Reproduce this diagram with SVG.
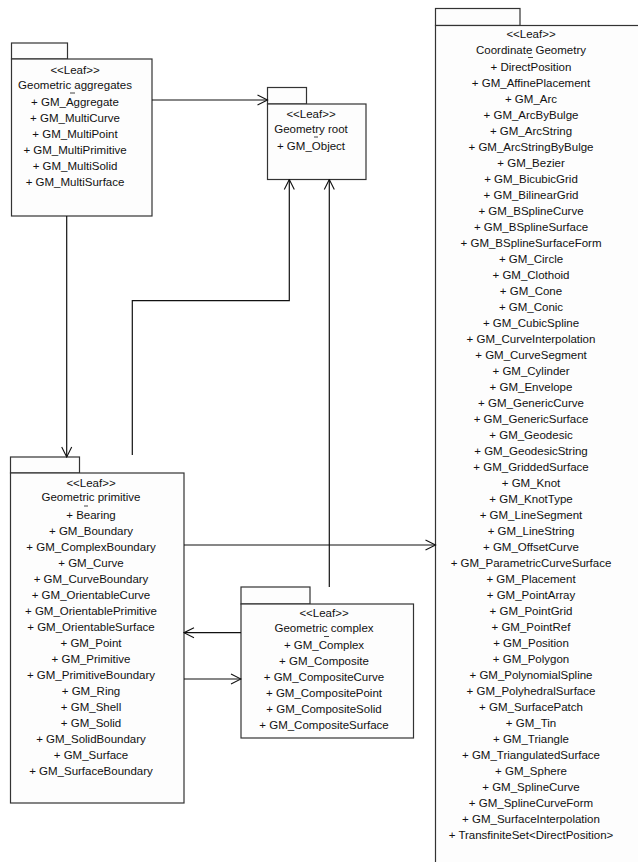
<svg xmlns="http://www.w3.org/2000/svg" width="638" height="862" viewBox="0 0 638 862">
  <defs>
    <marker id="open-arrow" viewBox="0 0 12 12" refX="11" refY="6" markerWidth="12" markerHeight="12" markerUnits="userSpaceOnUse" orient="auto">
      <path d="M1,1 L11,6 L1,11" fill="none" stroke="#111" stroke-width="1.1"/>
    </marker>
  </defs>
  <style>
    .pkg rect { fill: #fdfdfd; stroke: #333; stroke-width: 1.2; }
    .pkg text { font-family: "Liberation Sans", Arial, sans-serif; font-size: 11.5px; fill: #111; text-anchor: middle; }
    .pkg line.mark { stroke: #444; stroke-width: 1; }
    .conn path { fill: none; stroke: #111; stroke-width: 1.2; marker-end: url(#open-arrow); }
  </style>

  <rect x="0" y="0" width="638" height="862" fill="#ffffff"/>

  <!-- Packages -->
  <g id="geometric-aggregates" class="pkg">
    <rect x="11.5" y="43" width="56" height="16"/>
    <rect x="11.5" y="59" width="140.5" height="157"/>
    <text x="75" y="73.5">&lt;&lt;Leaf&gt;&gt;</text>
    <text x="75" y="89">Geometric aggregates</text>
    <line class="mark" x1="70" y1="93" x2="75" y2="93"/>
    <text x="75" y="106">+ GM_Aggregate</text>
    <text x="75" y="122">+ GM_MultiCurve</text>
    <text x="75" y="138">+ GM_MultiPoint</text>
    <text x="75" y="154">+ GM_MultiPrimitive</text>
    <text x="75" y="170">+ GM_MultiSolid</text>
    <text x="75" y="186">+ GM_MultiSurface</text>
  </g>

  <g id="geometry-root" class="pkg">
    <rect x="267.5" y="87.5" width="39" height="16.5"/>
    <rect x="267.5" y="104" width="98.5" height="75.5"/>
    <text x="311" y="117.5">&lt;&lt;Leaf&gt;&gt;</text>
    <text x="311" y="132.5">Geometry root</text>
    <line class="mark" x1="314" y1="137" x2="318" y2="137"/>
    <text x="311" y="150">+ GM_Object</text>
  </g>

  <g id="coordinate-geometry" class="pkg">
    <rect x="435.5" y="8.5" width="84.5" height="17"/>
    <rect x="435.5" y="25.5" width="260" height="880"/>
    <text x="531" y="37.5">&lt;&lt;Leaf&gt;&gt;</text>
    <text x="531" y="54">Coordinate Geometry</text>
    <line class="mark" x1="528" y1="57.5" x2="533" y2="57.5"/>
    <text x="531" y="70.7">+ DirectPosition</text>
    <text x="531" y="86.7">+ GM_AffinePlacement</text>
    <text x="531" y="102.7">+ GM_Arc</text>
    <text x="531" y="118.7">+ GM_ArcByBulge</text>
    <text x="531" y="134.7">+ GM_ArcString</text>
    <text x="531" y="150.7">+ GM_ArcStringByBulge</text>
    <text x="531" y="166.7">+ GM_Bezier</text>
    <text x="531" y="182.7">+ GM_BicubicGrid</text>
    <text x="531" y="198.7">+ GM_BilinearGrid</text>
    <text x="531" y="214.7">+ GM_BSplineCurve</text>
    <text x="531" y="230.7">+ GM_BSplineSurface</text>
    <text x="531" y="246.7">+ GM_BSplineSurfaceForm</text>
    <text x="531" y="262.7">+ GM_Circle</text>
    <text x="531" y="278.7">+ GM_Clothoid</text>
    <text x="531" y="294.7">+ GM_Cone</text>
    <text x="531" y="310.7">+ GM_Conic</text>
    <text x="531" y="326.7">+ GM_CubicSpline</text>
    <text x="531" y="342.7">+ GM_CurveInterpolation</text>
    <text x="531" y="358.7">+ GM_CurveSegment</text>
    <text x="531" y="374.7">+ GM_Cylinder</text>
    <text x="531" y="390.7">+ GM_Envelope</text>
    <text x="531" y="406.7">+ GM_GenericCurve</text>
    <text x="531" y="422.7">+ GM_GenericSurface</text>
    <text x="531" y="438.7">+ GM_Geodesic</text>
    <text x="531" y="454.7">+ GM_GeodesicString</text>
    <text x="531" y="470.7">+ GM_GriddedSurface</text>
    <text x="531" y="486.7">+ GM_Knot</text>
    <text x="531" y="502.7">+ GM_KnotType</text>
    <text x="531" y="518.7">+ GM_LineSegment</text>
    <text x="531" y="534.7">+ GM_LineString</text>
    <text x="531" y="550.7">+ GM_OffsetCurve</text>
    <text x="531" y="566.7">+ GM_ParametricCurveSurface</text>
    <text x="531" y="582.7">+ GM_Placement</text>
    <text x="531" y="598.7">+ GM_PointArray</text>
    <text x="531" y="614.7">+ GM_PointGrid</text>
    <text x="531" y="630.7">+ GM_PointRef</text>
    <text x="531" y="646.7">+ GM_Position</text>
    <text x="531" y="662.7">+ GM_Polygon</text>
    <text x="531" y="678.7">+ GM_PolynomialSpline</text>
    <text x="531" y="694.7">+ GM_PolyhedralSurface</text>
    <text x="531" y="710.7">+ GM_SurfacePatch</text>
    <text x="531" y="726.7">+ GM_Tin</text>
    <text x="531" y="742.7">+ GM_Triangle</text>
    <text x="531" y="758.7">+ GM_TriangulatedSurface</text>
    <text x="531" y="774.7">+ GM_Sphere</text>
    <text x="531" y="790.7">+ GM_SplineCurve</text>
    <text x="531" y="806.7">+ GM_SplineCurveForm</text>
    <text x="531" y="822.7">+ GM_SurfaceInterpolation</text>
    <text x="531" y="838.7">+ TransfiniteSet&lt;DirectPosition&gt;</text>
  </g>

  <g id="geometric-primitive" class="pkg">
    <rect x="10.5" y="457" width="69" height="16"/>
    <rect x="10.5" y="473" width="173.5" height="330"/>
    <text x="91" y="487">&lt;&lt;Leaf&gt;&gt;</text>
    <text x="91" y="501">Geometric primitive</text>
    <line class="mark" x1="84" y1="506" x2="88" y2="506"/>
    <text x="91" y="518.5">+ Bearing</text>
    <text x="91" y="534.5">+ GM_Boundary</text>
    <text x="91" y="550.5">+ GM_ComplexBoundary</text>
    <text x="91" y="566.5">+ GM_Curve</text>
    <text x="91" y="582.5">+ GM_CurveBoundary</text>
    <text x="91" y="598.5">+ GM_OrientableCurve</text>
    <text x="91" y="614.5">+ GM_OrientablePrimitive</text>
    <text x="91" y="630.5">+ GM_OrientableSurface</text>
    <text x="91" y="646.5">+ GM_Point</text>
    <text x="91" y="662.5">+ GM_Primitive</text>
    <text x="91" y="678.5">+ GM_PrimitiveBoundary</text>
    <text x="91" y="694.5">+ GM_Ring</text>
    <text x="91" y="710.5">+ GM_Shell</text>
    <text x="91" y="726.5">+ GM_Solid</text>
    <text x="91" y="742.5">+ GM_SolidBoundary</text>
    <text x="91" y="758.5">+ GM_Surface</text>
    <text x="91" y="774.5">+ GM_SurfaceBoundary</text>
  </g>

  <g id="geometric-complex" class="pkg">
    <rect x="241" y="587" width="69" height="17"/>
    <rect x="241" y="604" width="172.5" height="134"/>
    <text x="324" y="616.7">&lt;&lt;Leaf&gt;&gt;</text>
    <text x="324" y="632.3">Geometric complex</text>
    <line class="mark" x1="324" y1="636.5" x2="329" y2="636.5"/>
    <text x="324" y="649">+ GM_Complex</text>
    <text x="324" y="665">+ GM_Composite</text>
    <text x="324" y="681">+ GM_CompositeCurve</text>
    <text x="324" y="697">+ GM_CompositePoint</text>
    <text x="324" y="713">+ GM_CompositeSolid</text>
    <text x="324" y="729">+ GM_CompositeSurface</text>
  </g>

  <!-- Dependencies between packages -->
  <g id="connectors" class="conn">
    <path d="M152,100 L267.5,100"/>
    <path d="M66.7,216 L66.7,457"/>
    <path d="M132.3,455 L132.3,300.7 L289.3,300.7 L289.3,179.5"/>
    <path d="M329.3,587 L329.3,179.5"/>
    <path d="M184,545 L435.5,545"/>
    <path d="M241,632.7 L184,632.7"/>
    <path d="M184,679 L241,679"/>
  </g>
</svg>
